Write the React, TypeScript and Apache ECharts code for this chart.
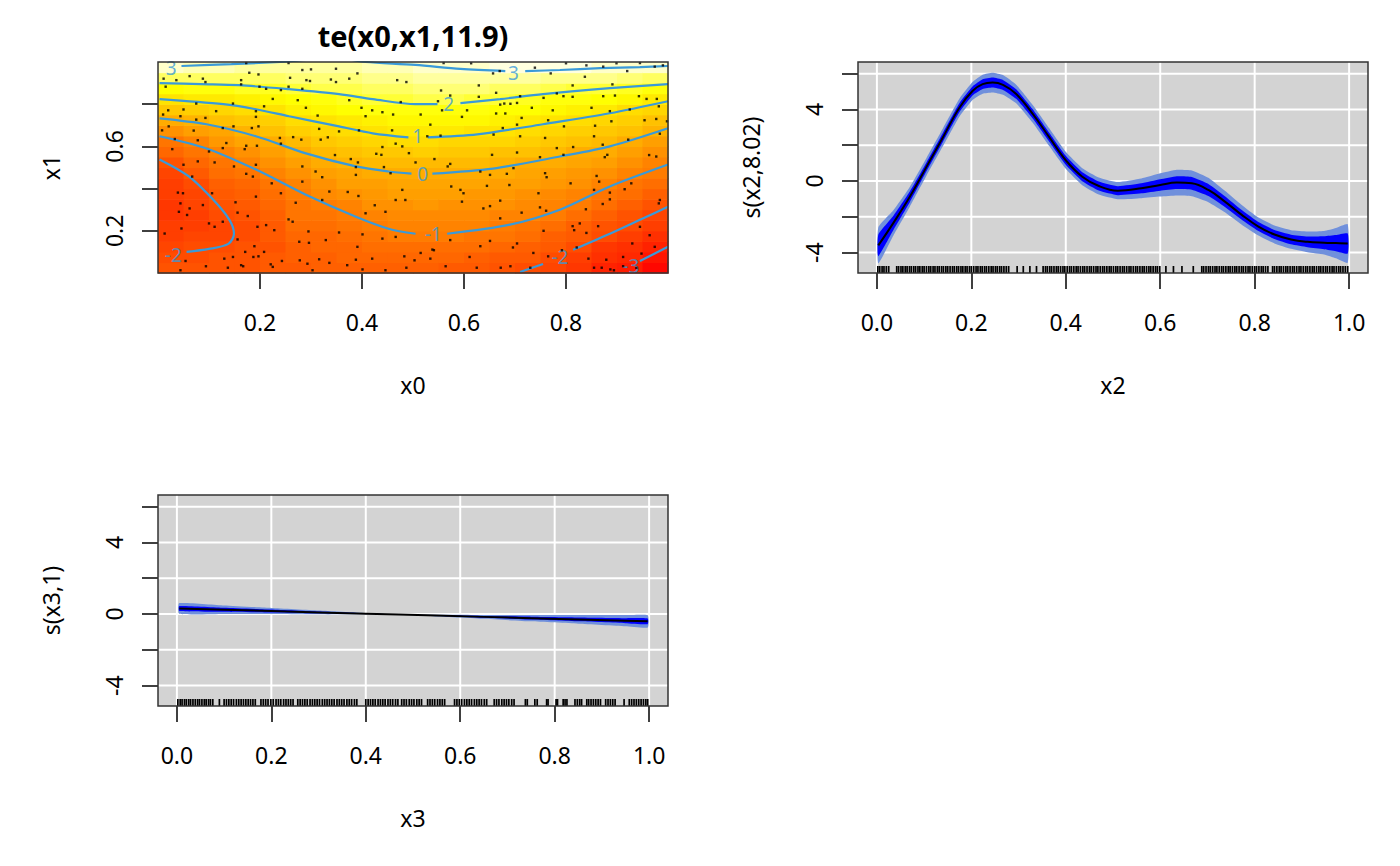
import React, { useEffect, useRef } from "react";
import * as echarts from "echarts";

const FONT = "'Noto Sans', 'DejaVu Sans', sans-serif";
const CONTOUR_COLOR = "#3a9ad9";
const BAND_OUTER = "#7090dc";
const BAND_INNER = "#0000ff";
const PANEL_BG = "#d3d3d3";

// ---------- Panel 1: te(x0,x1,11.9) ----------
const teX = [0.025, 0.075, 0.125, 0.175, 0.225, 0.275, 0.325, 0.375, 0.425, 0.475, 0.525, 0.575, 0.625, 0.675, 0.725, 0.775, 0.825, 0.875, 0.925, 0.975];
const teY = [0.025, 0.075, 0.125, 0.175, 0.225, 0.275, 0.325, 0.375, 0.425, 0.475, 0.525, 0.575, 0.625, 0.675, 0.725, 0.775, 0.825, 0.875, 0.925, 0.975];
// one array per x column, values from bottom (y=0.025) to top (y=0.975)
const teZByColumn = [
  [-1.85, -1.97, -2.1, -2.2, -2.3, -2.35, -2.35, -2.3, -2.2, -2.08, -1.88, -1.48, -1.08, -0.57, -0.02, 0.52, 1.06, 1.69, 2.33, 2.99],
  [-1.85, -1.93, -2.03, -2.12, -2.2, -2.22, -2.18, -2.12, -2.02, -1.74, -1.46, -1.17, -0.81, -0.35, 0.13, 0.64, 1.17, 1.74, 2.31, 2.89],
  [-1.8, -1.88, -1.99, -2.06, -2.08, -2.04, -1.9, -1.71, -1.52, -1.33, -1.13, -0.88, -0.5, -0.12, 0.32, 0.77, 1.26, 1.79, 2.32, 2.84],
  [-1.78, -1.85, -1.9, -1.93, -1.92, -1.85, -1.75, -1.6, -1.42, -1.18, -0.87, -0.55, -0.23, 0.12, 0.52, 0.92, 1.38, 1.86, 2.33, 2.81],
  [-1.72, -1.76, -1.77, -1.75, -1.7, -1.6, -1.48, -1.33, -1.15, -0.88, -0.59, -0.29, 0.0, 0.36, 0.71, 1.07, 1.51, 1.94, 2.36, 2.8],
  [-1.67, -1.58, -1.49, -1.4, -1.3, -1.21, -1.12, -1.03, -0.82, -0.55, -0.29, -0.03, 0.29, 0.61, 0.94, 1.3, 1.68, 2.06, 2.42, 2.78],
  [-1.62, -1.54, -1.45, -1.35, -1.24, -1.12, -1.01, -0.79, -0.56, -0.33, -0.09, 0.18, 0.48, 0.79, 1.1, 1.45, 1.79, 2.13, 2.45, 2.77],
  [-1.57, -1.46, -1.35, -1.24, -1.12, -1.01, -0.8, -0.59, -0.37, -0.15, 0.09, 0.37, 0.66, 0.94, 1.25, 1.57, 1.89, 2.19, 2.49, 2.79],
  [-1.55, -1.41, -1.28, -1.14, -1.0, -0.81, -0.62, -0.43, -0.25, -0.06, 0.21, 0.5, 0.79, 1.09, 1.4, 1.71, 2.02, 2.3, 2.59, 2.87],
  [-1.55, -1.39, -1.23, -1.07, -0.9, -0.72, -0.54, -0.36, -0.18, 0.0, 0.29, 0.59, 0.88, 1.19, 1.5, 1.81, 2.1, 2.38, 2.65, 2.92],
  [-1.6, -1.41, -1.22, -1.04, -0.86, -0.69, -0.51, -0.33, -0.16, 0.02, 0.31, 0.6, 0.89, 1.2, 1.52, 1.83, 2.14, 2.42, 2.7, 2.97],
  [-1.65, -1.45, -1.25, -1.05, -0.87, -0.7, -0.52, -0.35, -0.17, 0.0, 0.29, 0.58, 0.87, 1.17, 1.5, 1.82, 2.14, 2.43, 2.73, 3.03],
  [-1.75, -1.53, -1.32, -1.1, -0.91, -0.73, -0.56, -0.38, -0.21, -0.03, 0.23, 0.52, 0.81, 1.12, 1.44, 1.77, 2.1, 2.43, 2.76, 3.08],
  [-1.88, -1.66, -1.43, -1.21, -0.99, -0.81, -0.63, -0.45, -0.27, -0.09, 0.15, 0.44, 0.74, 1.03, 1.36, 1.69, 2.02, 2.39, 2.76, 3.1],
  [-1.97, -1.75, -1.53, -1.32, -1.1, -0.9, -0.72, -0.53, -0.35, -0.16, 0.03, 0.32, 0.62, 0.91, 1.24, 1.58, 1.91, 2.31, 2.73, 3.1],
  [-2.17, -1.95, -1.73, -1.51, -1.29, -1.07, -0.86, -0.67, -0.47, -0.27, -0.08, 0.18, 0.48, 0.79, 1.1, 1.46, 1.81, 2.21, 2.67, 3.14],
  [-2.43, -2.2, -1.98, -1.75, -1.52, -1.3, -1.07, -0.85, -0.63, -0.41, -0.2, 0.03, 0.34, 0.66, 0.97, 1.34, 1.71, 2.11, 2.62, 3.12],
  [-2.82, -2.58, -2.33, -2.0, -1.78, -1.56, -1.33, -1.11, -0.87, -0.62, -0.36, -0.1, 0.19, 0.51, 0.83, 1.19, 1.6, 2.01, 2.54, 3.07],
  [-2.98, -2.73, -2.49, -2.24, -2.0, -1.78, -1.56, -1.33, -1.11, -0.86, -0.57, -0.29, 0.0, 0.33, 0.67, 1.0, 1.46, 1.92, 2.47, 3.02],
  [-3.39, -3.12, -2.85, -2.59, -2.32, -2.05, -1.8, -1.56, -1.32, -1.07, -0.8, -0.52, -0.24, 0.05, 0.43, 0.81, 1.27, 1.82, 2.38, 2.97],
];
const Z_MIN = -3.5;
const Z_MAX = 3.3;
const CELL_W = 0.05;
const CELL_H = 0.05;

const contour3a = [[0.046, 0.981], [0.144, 0.99], [0.251, 1.002], [0.31, 1.012], [0.37, 1.012], [0.407, 1.0], [0.505, 0.986], [0.593, 0.967], [0.681, 0.957]];
const contour3b = [[0.72, 0.957], [0.788, 0.962], [0.867, 0.971], [0.945, 0.976], [1.0, 0.981]];
const contour2a = [[0.003, 0.9], [0.085, 0.895], [0.159, 0.89], [0.257, 0.871], [0.355, 0.848], [0.421, 0.824], [0.505, 0.8], [0.548, 0.8]];
const contour2b = [[0.593, 0.805], [0.671, 0.824], [0.755, 0.848], [0.886, 0.876], [1.0, 0.895]];
const contour1a = [[0.003, 0.824], [0.128, 0.8], [0.192, 0.776], [0.257, 0.743], [0.355, 0.695], [0.421, 0.662], [0.491, 0.643]];
const contour1b = [[0.529, 0.643], [0.626, 0.657], [0.755, 0.705], [0.886, 0.757], [1.0, 0.814]];
const contour0a = [[0.003, 0.733], [0.095, 0.705], [0.192, 0.648], [0.29, 0.567], [0.388, 0.505], [0.452, 0.481], [0.497, 0.471]];
const contour0b = [[0.538, 0.471], [0.657, 0.495], [0.788, 0.552], [0.886, 0.6], [1.0, 0.686]];
const contourM1a = [[0.003, 0.648], [0.095, 0.59], [0.192, 0.49], [0.29, 0.371], [0.388, 0.267], [0.452, 0.21], [0.505, 0.186]];
const contourM1b = [[0.567, 0.186], [0.69, 0.229], [0.788, 0.3], [0.886, 0.41], [1.0, 0.514]];
const contourM2a = [[0.003, 0.538], [0.061, 0.457], [0.108, 0.348], [0.14, 0.252], [0.149, 0.186], [0.138, 0.138], [0.1, 0.114], [0.056, 0.1]];
const contourM2b = [[0.71, 0.005], [0.755, 0.043]];
const contourM2c = [[0.814, 0.11], [0.886, 0.186], [0.945, 0.252], [1.0, 0.314]];
const contourM3 = [[0.945, 0.057], [1.0, 0.124]];
const contourSegments = [contour3a, contour3b, contour2a, contour2b, contour1a, contour1b, contour0a, contour0b, contourM1a, contourM1b, contourM2a, contourM2b, contourM2c, contourM3];

const contourLabelText = ["3", "3", "2", "1", "0", "-1", "-2", "-2", "-3"];
const contourLabelPos = [[0.026, 0.971], [0.697, 0.948], [0.57, 0.8], [0.509, 0.648], [0.519, 0.471], [0.54, 0.186], [0.03, 0.086], [0.788, 0.076], [0.927, 0.033]];

const tePoints = [
  [0.173, 0.995], [0.256, 0.995], [0.179, 0.949], [0.197, 0.941], [0.062, 0.933], [0.011, 0.921], [0.036, 0.914], [0.088, 0.921], [0.093, 0.905], [0.163, 0.914],
  [0.283, 0.962], [0.3, 0.965], [0.349, 0.968], [0.391, 0.946], [0.259, 0.925], [0.291, 0.914], [0.298, 0.91], [0.339, 0.917], [0.349, 0.905], [0.375, 0.921],
  [0.469, 0.914], [0.487, 0.905], [0.015, 0.883], [0.163, 0.894], [0.199, 0.883], [0.212, 0.873], [0.241, 0.867], [0.256, 0.883], [0.283, 0.873], [0.375, 0.819],
  [0.399, 0.783], [0.461, 0.751], [0.476, 0.81], [0.225, 0.825], [0.274, 0.819], [0.075, 0.803], [0.147, 0.803], [0.208, 0.79], [0.29, 0.783], [0.42, 0.771],
  [0.44, 0.762], [0.02, 0.771], [0.05, 0.775], [0.114, 0.767], [0.192, 0.767], [0.01, 0.751], [0.044, 0.743], [0.075, 0.727], [0.093, 0.735], [0.192, 0.74],
  [0.313, 0.746], [0.407, 0.743], [0.021, 0.695], [0.008, 0.676], [0.07, 0.675], [0.127, 0.687], [0.148, 0.695], [0.184, 0.687], [0.197, 0.695], [0.316, 0.683],
  [0.355, 0.671], [0.265, 0.644], [0.281, 0.632], [0.239, 0.64], [0.333, 0.643], [0.394, 0.676], [0.459, 0.676], [0.033, 0.635], [0.078, 0.629], [0.134, 0.616],
  [0.173, 0.603], [0.194, 0.603], [0.241, 0.613], [0.319, 0.632], [0.479, 0.6], [0.466, 0.613], [0.44, 0.597], [0.428, 0.565], [0.438, 0.56], [0.492, 0.568],
  [0.028, 0.587], [0.1, 0.576], [0.127, 0.592], [0.17, 0.587], [0.347, 0.559], [0.378, 0.54], [0.392, 0.524], [0.05, 0.513], [0.078, 0.529], [0.111, 0.524],
  [0.149, 0.505], [0.192, 0.513], [0.283, 0.505], [0.309, 0.481], [0.223, 0.425], [0.186, 0.457], [0.173, 0.47], [0.283, 0.433], [0.322, 0.454], [0.388, 0.502],
  [0.443, 0.502], [0.388, 0.465], [0.456, 0.473], [0.067, 0.457], [0.106, 0.378], [0.049, 0.378], [0.039, 0.381], [0.241, 0.378], [0.336, 0.386], [0.372, 0.384],
  [0.393, 0.365], [0.407, 0.283], [0.425, 0.321], [0.446, 0.29], [0.466, 0.346], [0.485, 0.346], [0.479, 0.394], [0.088, 0.322], [0.062, 0.306], [0.044, 0.33],
  [0.152, 0.335], [0.192, 0.362], [0.27, 0.333], [0.322, 0.346], [0.041, 0.29], [0.057, 0.275], [0.127, 0.243], [0.111, 0.219], [0.1, 0.235], [0.156, 0.286],
  [0.176, 0.27], [0.256, 0.254], [0.264, 0.243], [0.195, 0.219], [0.212, 0.227], [0.228, 0.203], [0.295, 0.197], [0.355, 0.192], [0.401, 0.183], [0.44, 0.163],
  [0.466, 0.171], [0.013, 0.187], [0.046, 0.211], [0.156, 0.159], [0.277, 0.148], [0.296, 0.143], [0.329, 0.156], [0.391, 0.124], [0.171, 0.1], [0.189, 0.127],
  [0.208, 0.1], [0.187, 0.076], [0.147, 0.076], [0.197, 0.079], [0.243, 0.057], [0.278, 0.06], [0.316, 0.065], [0.388, 0.063], [0.42, 0.068], [0.483, 0.079],
  [0.054, 0.057], [0.13, 0.068], [0.044, 0.013], [0.094, 0.032], [0.137, 0.025], [0.163, 0.037], [0.221, 0.041], [0.167, 0.032], [0.225, 0.029], [0.293, 0.044],
  [0.336, 0.048], [0.371, 0.037], [0.446, 0.013], [0.487, 0.025], [0.401, 0.017], [0.303, 0.013],
  [0.56, 0.995], [0.614, 0.994], [0.8, 0.994], [0.84, 0.984], [0.873, 0.978], [0.899, 0.994], [0.945, 0.995], [0.99, 0.984], [0.974, 0.978], [0.657, 0.946],
  [0.67, 0.957], [0.739, 0.973], [0.77, 0.946], [0.837, 0.93], [0.92, 0.957], [0.813, 0.889], [0.891, 0.894], [0.555, 0.865], [0.573, 0.841], [0.629, 0.889],
  [0.629, 0.835], [0.663, 0.854], [0.71, 0.838], [0.756, 0.83], [0.782, 0.851], [0.795, 0.838], [0.813, 0.835], [0.873, 0.838], [0.896, 0.841], [0.943, 0.838],
  [0.958, 0.825], [0.978, 0.825], [0.549, 0.814], [0.606, 0.771], [0.596, 0.74], [0.671, 0.798], [0.679, 0.803], [0.691, 0.802], [0.704, 0.806], [0.733, 0.783],
  [0.774, 0.771], [0.85, 0.783], [0.886, 0.767], [0.925, 0.775], [0.982, 0.79], [0.515, 0.751], [0.557, 0.771], [0.663, 0.756], [0.681, 0.756], [0.704, 0.703],
  [0.713, 0.735], [0.765, 0.724], [0.796, 0.695], [0.857, 0.698], [0.889, 0.719], [0.954, 0.724], [0.977, 0.73], [0.998, 0.719], [0.534, 0.703], [0.554, 0.651],
  [0.528, 0.648], [0.658, 0.656], [0.676, 0.687], [0.71, 0.648], [0.759, 0.64], [0.782, 0.592], [0.814, 0.597], [0.855, 0.648], [0.872, 0.608], [0.922, 0.632],
  [0.984, 0.66], [0.505, 0.524], [0.542, 0.54], [0.573, 0.517], [0.568, 0.505], [0.655, 0.56], [0.704, 0.571], [0.749, 0.549], [0.795, 0.56], [0.876, 0.549],
  [0.881, 0.56], [0.963, 0.559], [0.977, 0.552], [0.632, 0.481], [0.651, 0.465], [0.684, 0.47], [0.697, 0.497], [0.759, 0.473], [0.762, 0.454], [0.86, 0.46],
  [0.865, 0.433], [0.928, 0.425], [0.575, 0.41], [0.599, 0.378], [0.593, 0.394], [0.645, 0.413], [0.689, 0.417], [0.746, 0.378], [0.809, 0.425], [0.855, 0.394],
  [0.886, 0.381], [0.915, 0.397], [0.886, 0.349], [0.984, 0.346], [0.982, 0.33], [0.596, 0.338], [0.638, 0.306], [0.651, 0.317], [0.671, 0.343], [0.713, 0.286],
  [0.749, 0.311], [0.761, 0.295], [0.839, 0.302], [0.872, 0.327], [0.671, 0.259], [0.756, 0.2], [0.813, 0.222], [0.816, 0.203], [0.827, 0.235], [0.84, 0.19],
  [0.863, 0.222], [0.945, 0.219], [0.964, 0.179], [0.573, 0.156], [0.541, 0.108], [0.515, 0.095], [0.538, 0.111], [0.651, 0.152], [0.704, 0.14], [0.736, 0.095],
  [0.765, 0.079], [0.632, 0.127], [0.696, 0.121], [0.792, 0.108], [0.821, 0.121], [0.844, 0.068], [0.879, 0.063], [0.912, 0.076], [0.93, 0.14], [0.948, 0.092],
  [0.974, 0.124], [0.564, 0.032], [0.611, 0.076], [0.625, 0.025], [0.672, 0.025], [0.691, 0.032], [0.73, 0.025], [0.855, 0.025], [0.87, 0.025], [0.887, 0.017],
  [0.894, 0.013], [0.912, 0.032], [0.938, 0.024], [0.503, 0.06], [0.534, 0.068],
];

const teXTicks = [0.2, 0.4, 0.6, 0.8];
const teXLabels = [0.2, 0.4, 0.6, 0.8];
const teYTicks = [0.2, 0.4, 0.6, 0.8];
const teYLabels = [0.2, 0.6];

// ---------- Panel 2: s(x2,8.02) ----------
const x2Grid = [0.003, 0.035, 0.07, 0.105, 0.14, 0.175, 0.203, 0.224, 0.245, 0.267, 0.295, 0.33, 0.365, 0.4, 0.435, 0.47, 0.51, 0.56, 0.6, 0.635, 0.667, 0.702, 0.737, 0.772, 0.807, 0.842, 0.877, 0.912, 0.947, 0.972, 0.997];
const x2Fit = [-3.6, -2.34, -0.87, 0.79, 2.45, 4.11, 5.04, 5.41, 5.5, 5.37, 4.86, 3.75, 2.45, 1.16, 0.24, -0.28, -0.54, -0.41, -0.22, -0.09, -0.13, -0.5, -1.15, -1.88, -2.53, -2.99, -3.27, -3.4, -3.45, -3.47, -3.49];
const x2InnerLo = [-4.2, -2.74, -1.17, 0.54, 2.2, 3.86, 4.79, 5.14, 5.22, 5.09, 4.59, 3.49, 2.2, 0.91, -0.01, -0.53, -0.79, -0.69, -0.54, -0.45, -0.49, -0.84, -1.45, -2.15, -2.78, -3.24, -3.54, -3.7, -3.81, -3.92, -4.05];
const x2InnerHi = [-3.0, -1.94, -0.57, 1.04, 2.7, 4.36, 5.29, 5.68, 5.78, 5.65, 5.13, 4.01, 2.7, 1.41, 0.49, -0.03, -0.29, -0.13, 0.1, 0.27, 0.23, -0.16, -0.85, -1.61, -2.28, -2.74, -3.0, -3.1, -3.09, -3.02, -2.93];
const x2OuterLo = [-4.6, -3.04, -1.42, 0.29, 1.95, 3.61, 4.54, 4.88, 4.95, 4.82, 4.34, 3.25, 1.95, 0.68, -0.24, -0.76, -1.02, -0.96, -0.87, -0.81, -0.85, -1.18, -1.75, -2.43, -3.03, -3.49, -3.79, -3.98, -4.11, -4.32, -4.57];
const x2OuterHi = [-2.6, -1.64, -0.32, 1.29, 2.95, 4.61, 5.54, 5.94, 6.05, 5.92, 5.38, 4.25, 2.95, 1.64, 0.72, 0.2, -0.06, 0.14, 0.43, 0.63, 0.59, 0.18, -0.55, -1.33, -2.03, -2.49, -2.75, -2.82, -2.79, -2.62, -2.41];
const x2Rug = [0.002, 0.006, 0.011, 0.015, 0.02, 0.025, 0.042, 0.046, 0.051, 0.055, 0.06, 0.064, 0.069, 0.073, 0.078, 0.082, 0.087, 0.091, 0.096, 0.1, 0.105, 0.11, 0.114, 0.119, 0.123, 0.128, 0.132, 0.137, 0.141, 0.146, 0.15, 0.155, 0.16, 0.164, 0.169, 0.173, 0.178, 0.182, 0.187, 0.191, 0.196, 0.2, 0.205, 0.21, 0.214, 0.219, 0.223, 0.228, 0.232, 0.237, 0.242, 0.246, 0.251, 0.255, 0.26, 0.264, 0.269, 0.274, 0.279, 0.297, 0.31, 0.324, 0.338, 0.352, 0.357, 0.361, 0.366, 0.37, 0.375, 0.38, 0.384, 0.389, 0.394, 0.398, 0.403, 0.408, 0.412, 0.417, 0.422, 0.426, 0.431, 0.436, 0.44, 0.445, 0.45, 0.454, 0.459, 0.464, 0.468, 0.473, 0.478, 0.482, 0.487, 0.492, 0.496, 0.501, 0.506, 0.51, 0.515, 0.52, 0.524, 0.529, 0.534, 0.538, 0.543, 0.548, 0.552, 0.557, 0.562, 0.566, 0.571, 0.576, 0.58, 0.585, 0.59, 0.594, 0.599, 0.612, 0.628, 0.646, 0.67, 0.688, 0.692, 0.697, 0.702, 0.706, 0.711, 0.716, 0.72, 0.725, 0.73, 0.734, 0.739, 0.744, 0.748, 0.753, 0.758, 0.762, 0.767, 0.772, 0.776, 0.781, 0.786, 0.79, 0.795, 0.8, 0.804, 0.809, 0.814, 0.818, 0.823, 0.828, 0.838, 0.842, 0.847, 0.852, 0.856, 0.861, 0.866, 0.87, 0.875, 0.88, 0.884, 0.889, 0.894, 0.898, 0.903, 0.908, 0.912, 0.917, 0.922, 0.926, 0.931, 0.936, 0.94, 0.945, 0.95, 0.954, 0.959, 0.964, 0.968, 0.973, 0.978, 0.982, 0.987, 0.992, 0.997];

// ---------- Panel 3: s(x3,1) ----------
const x3Grid = [0.005, 0.1, 0.2, 0.3, 0.4, 0.47, 0.55, 0.65, 0.75, 0.85, 0.95, 0.997];
const x3Fit = [0.31, 0.24, 0.17, 0.09, 0.02, -0.03, -0.09, -0.16, -0.23, -0.3, -0.37, -0.41];
const x3InnerLo = [0.17, 0.13, 0.09, 0.04, 0.0, -0.03, -0.11, -0.21, -0.31, -0.41, -0.51, -0.57];
const x3InnerHi = [0.45, 0.35, 0.25, 0.14, 0.04, -0.03, -0.07, -0.11, -0.15, -0.19, -0.23, -0.25];
const x3OuterLo = [0.01, 0.0, 0.0, -0.02, -0.02, -0.03, -0.14, -0.27, -0.41, -0.54, -0.68, -0.75];
const x3OuterHi = [0.61, 0.48, 0.34, 0.2, 0.06, -0.03, -0.04, -0.05, -0.05, -0.06, -0.06, -0.07];
const x3Rug = [0.002, 0.007, 0.011, 0.016, 0.02, 0.025, 0.029, 0.034, 0.039, 0.044, 0.048, 0.053, 0.058, 0.062, 0.067, 0.071, 0.076, 0.09, 0.1, 0.105, 0.11, 0.115, 0.12, 0.126, 0.131, 0.136, 0.141, 0.146, 0.151, 0.156, 0.161, 0.166, 0.178, 0.183, 0.188, 0.193, 0.199, 0.204, 0.21, 0.215, 0.22, 0.226, 0.231, 0.236, 0.241, 0.246, 0.256, 0.261, 0.266, 0.271, 0.276, 0.282, 0.287, 0.292, 0.297, 0.302, 0.308, 0.313, 0.318, 0.323, 0.328, 0.333, 0.339, 0.344, 0.349, 0.354, 0.36, 0.365, 0.37, 0.376, 0.381, 0.4, 0.405, 0.41, 0.415, 0.42, 0.426, 0.431, 0.436, 0.441, 0.447, 0.452, 0.457, 0.463, 0.468, 0.476, 0.481, 0.486, 0.492, 0.497, 0.502, 0.508, 0.513, 0.518, 0.531, 0.536, 0.541, 0.546, 0.552, 0.557, 0.562, 0.567, 0.588, 0.593, 0.598, 0.603, 0.609, 0.614, 0.619, 0.624, 0.63, 0.635, 0.64, 0.645, 0.651, 0.656, 0.672, 0.677, 0.682, 0.688, 0.693, 0.698, 0.703, 0.709, 0.714, 0.738, 0.742, 0.758, 0.763, 0.783, 0.786, 0.803, 0.806, 0.818, 0.822, 0.826, 0.843, 0.848, 0.853, 0.857, 0.868, 0.872, 0.877, 0.882, 0.887, 0.892, 0.897, 0.908, 0.913, 0.918, 0.923, 0.928, 0.947, 0.958, 0.963, 0.968, 0.973, 0.978, 0.983, 0.988, 0.993, 0.997];

// shared axes for panels 2 & 3
const sX_MIN = -0.04;
const sX_MAX = 1.04;
const sY_MIN = -5.14;
const sY_MAX = 6.65;
const sXTicks = [0, 0.2, 0.4, 0.6, 0.8, 1.0];
const sYTicks = [-4, -2, 0, 2, 4, 6];
const sYLabels = [-4, 0, 4];

const FS_TICK = 23;
const FS_NAME = 23;

function heatColor(v: number): string {
  const t = Math.max(0, Math.min(1, (v - Z_MIN) / (Z_MAX - Z_MIN)));
  const k = Math.round(t * 49);
  if (k < 38) {
    const g = Math.round((255 * k) / 37);
    return `rgb(255,${g},0)`;
  }
  const s = 1 - 1 / 24 - ((k - 38) / 11) * (1 - 2 / 24);
  const b = Math.round(255 * (1 - s));
  return `rgb(255,255,${b})`;
}

function bandSeries(xi: number, xs: number[], lo: number[], hi: number[], color: string, z: number) {
  return {
    type: "custom",
    xAxisIndex: xi,
    yAxisIndex: xi,
    silent: true,
    z,
    data: [[xs[0], lo[0]]],
    renderItem: (_params: any, api: any) => {
      const pts: number[][] = [];
      for (let i = 0; i < xs.length; i++) pts.push(api.coord([xs[i], hi[i]]));
      for (let i = xs.length - 1; i >= 0; i--) pts.push(api.coord([xs[i], lo[i]]));
      return { type: "polygon", shape: { points: pts, smooth: 0.15 }, style: { fill: color } };
    },
  };
}

function vGridSeries(idx: number, values: number[]) {
  return {
    type: "custom", xAxisIndex: idx, yAxisIndex: idx, silent: true, z: 1,
    data: values.map((v) => [v, 0]),
    renderItem: (params: any, api: any) => {
      const cs = params.coordSys;
      const px = api.coord([api.value(0), 0])[0];
      return { type: "line", shape: { x1: px, y1: cs.y, x2: px, y2: cs.y + cs.height }, style: { stroke: "#ffffff", lineWidth: 2 } };
    },
  };
}

function hGridSeries(idx: number, values: number[]) {
  return {
    type: "custom", xAxisIndex: idx, yAxisIndex: idx, silent: true, z: 1,
    data: values.map((v) => [0, v]),
    renderItem: (params: any, api: any) => {
      const cs = params.coordSys;
      const py = api.coord([0, api.value(1)])[1];
      return { type: "line", shape: { x1: cs.x, y1: py, x2: cs.x + cs.width, y2: py }, style: { stroke: "#ffffff", lineWidth: 2 } };
    },
  };
}

function rugSeries(idx: number, values: number[]) {
  return {
    type: "custom", xAxisIndex: idx, yAxisIndex: idx, silent: true, z: 8,
    data: values.map((v) => [v, 0]),
    renderItem: (params: any, api: any) => {
      const cs = params.coordSys;
      const px = api.coord([api.value(0), 0])[0];
      const yb = cs.y + cs.height;
      return { type: "line", shape: { x1: px, y1: yb, x2: px, y2: yb - 7 }, style: { stroke: "#000000", lineWidth: 1.7 } };
    },
  };
}

function frameSeries(idx: number) {
  return {
    type: "custom", xAxisIndex: idx, yAxisIndex: idx, silent: true, z: 20,
    data: [[0.5, 0.5]],
    renderItem: (params: any) => {
      const cs = params.coordSys;
      return { type: "rect", shape: { x: cs.x, y: cs.y, width: cs.width, height: cs.height }, style: { fill: "none", stroke: "#333333", lineWidth: 1.5 } };
    },
  };
}

function xAxisCfg(grid: number, min: number, max: number, ticks: number[], labels: number[], name: string) {
  return {
    gridIndex: grid, type: "value", min, max, position: "bottom",
    axisLine: { show: false, onZero: false },
    splitLine: { show: false },
    axisTick: { show: true, inside: false, length: 16, customValues: ticks, lineStyle: { color: "#000", width: 1.5 } },
    axisLabel: { show: true, customValues: labels, margin: 37, fontSize: FS_TICK, fontFamily: FONT, color: "#000", formatter: (v: number) => v.toFixed(1) },
    name, nameLocation: "middle", nameGap: 100,
    nameTextStyle: { fontSize: FS_NAME, fontFamily: FONT, color: "#000" },
  };
}

function yAxisCfg(grid: number, min: number, max: number, ticks: number[], labels: number[], name: string, fmt: (v: number) => string) {
  return {
    gridIndex: grid, type: "value", min, max, position: "left",
    axisLine: { show: false, onZero: false },
    splitLine: { show: false },
    axisTick: { show: true, inside: false, length: 16, customValues: ticks, lineStyle: { color: "#000", width: 1.5 } },
    axisLabel: { show: true, customValues: labels, rotate: 90, margin: 33, fontSize: FS_TICK, fontFamily: FONT, color: "#000", formatter: fmt },
    name, nameLocation: "middle", nameGap: 96, nameRotate: 90,
    nameTextStyle: { fontSize: FS_NAME, fontFamily: FONT, color: "#000" },
  };
}

export default function App() {
  const ref = useRef<HTMLDivElement>(null);
  useEffect(() => {
    if (!ref.current) return;
    const chart = echarts.init(ref.current, undefined, { renderer: "svg" });

    const teCells: number[][] = [];
    teX.forEach((x, i) => {
      teY.forEach((y, j) => {
        teCells.push([x, y, teZByColumn[i][j]]);
      });
    });

    const series: any[] = [];
    // panel 1 heat cells
    series.push({
      type: "custom", xAxisIndex: 0, yAxisIndex: 0, silent: true, z: 1,
      data: teCells,
      renderItem: (_p: any, api: any) => {
        const x = api.value(0), y = api.value(1), zv = api.value(2);
        const p0 = api.coord([x - CELL_W / 2, y + CELL_H / 2]);
        const p1 = api.coord([x + CELL_W / 2, y - CELL_H / 2]);
        return { type: "rect", shape: { x: p0[0], y: p0[1], width: p1[0] - p0[0] + 0.6, height: p1[1] - p0[1] + 0.6 }, style: { fill: heatColor(zv) } };
      },
    });
    contourSegments.forEach((seg) => {
      series.push({
        type: "line", xAxisIndex: 0, yAxisIndex: 0, data: seg, smooth: 0.3, symbol: "none", silent: true, clip: true, z: 4,
        lineStyle: { color: CONTOUR_COLOR, width: 2.2 },
      });
    });
    series.push({
      type: "scatter", xAxisIndex: 0, yAxisIndex: 0, silent: true, z: 5,
      data: contourLabelPos.map((p, i) => ({ value: p, name: contourLabelText[i] })),
      symbolSize: 1, itemStyle: { color: "rgba(0,0,0,0)" },
      label: { show: true, position: "inside", formatter: (p: any) => p.name, color: CONTOUR_COLOR, fontSize: 19, fontFamily: FONT },
    });
    series.push({
      type: "scatter", xAxisIndex: 0, yAxisIndex: 0, silent: true, z: 6,
      data: tePoints, symbol: "rect", symbolSize: 2.4, itemStyle: { color: "#000" },
    });
    series.push(frameSeries(0));

    // panel 2
    series.push(vGridSeries(1, sXTicks));
    series.push(hGridSeries(1, sYTicks));
    series.push(bandSeries(1, x2Grid, x2OuterLo, x2OuterHi, BAND_OUTER, 2));
    series.push(bandSeries(1, x2Grid, x2InnerLo, x2InnerHi, BAND_INNER, 3));
    series.push({
      type: "line", xAxisIndex: 1, yAxisIndex: 1, data: x2Grid.map((x, i) => [x, x2Fit[i]]), smooth: 0.4, symbol: "none", silent: true, z: 4,
      lineStyle: { color: "#000", width: 2 },
    });
    series.push(rugSeries(1, x2Rug));
    series.push(frameSeries(1));

    // panel 3
    series.push(vGridSeries(2, sXTicks));
    series.push(hGridSeries(2, sYTicks));
    series.push(bandSeries(2, x3Grid, x3OuterLo, x3OuterHi, BAND_OUTER, 2));
    series.push(bandSeries(2, x3Grid, x3InnerLo, x3InnerHi, BAND_INNER, 3));
    series.push({
      type: "line", xAxisIndex: 2, yAxisIndex: 2, data: x3Grid.map((x, i) => [x, x3Fit[i]]), smooth: false, symbol: "none", silent: true, z: 4,
      lineStyle: { color: "#000", width: 2 },
    });
    series.push(rugSeries(2, x3Rug));
    series.push(frameSeries(2));

    const gridBase = { show: true, borderWidth: 0, containLabel: false, outerBoundsMode: "none" };
    const option: any = {
      animation: false,
      backgroundColor: "#ffffff",
      textStyle: { fontFamily: FONT },
      grid: [
        { ...gridBase, left: 158, top: 62, width: 510, height: 211, backgroundColor: "transparent" },
        { ...gridBase, left: 858, top: 62, width: 510, height: 211, backgroundColor: PANEL_BG },
        { ...gridBase, left: 158, top: 495, width: 510, height: 211, backgroundColor: PANEL_BG },
      ],
      xAxis: [
        xAxisCfg(0, 0, 1, teXTicks, teXLabels, "x0"),
        xAxisCfg(1, sX_MIN, sX_MAX, sXTicks, sXTicks, "x2"),
        xAxisCfg(2, sX_MIN, sX_MAX, sXTicks, sXTicks, "x3"),
      ],
      yAxis: [
        yAxisCfg(0, 0, 1, teYTicks, teYLabels, "x1", (v: number) => v.toFixed(1)),
        yAxisCfg(1, sY_MIN, sY_MAX, sYTicks, sYLabels, "s(x2,8.02)", (v: number) => String(v)),
        yAxisCfg(2, sY_MIN, sY_MAX, sYTicks, sYLabels, "s(x3,1)", (v: number) => String(v)),
      ],
      graphic: [
        {
          type: "text", x: 413, y: 35,
          style: { text: "te(x0,x1,11.9)", font: `bold 29px ${FONT}`, fill: "#000", textAlign: "center", textVerticalAlign: "middle" },
        },
      ],
      series,
    };
    chart.setOption(option);
    return () => chart.dispose();
  }, []);

  return <div ref={ref} style={{ position: "fixed", left: 0, top: 0, width: 1400, height: 866 }} />;
}
